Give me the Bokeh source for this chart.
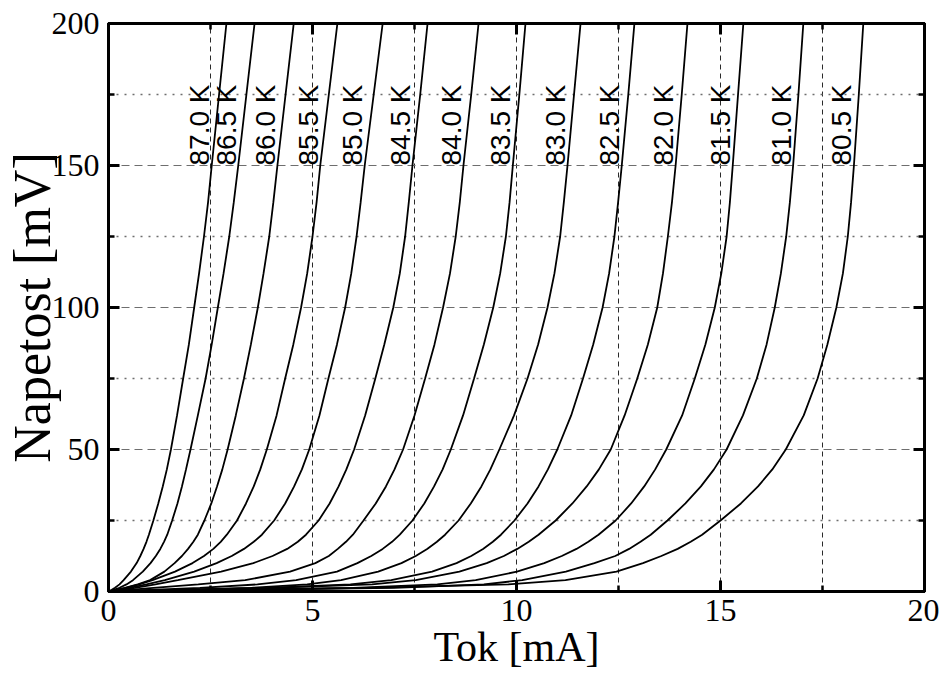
import numpy as np
from bokeh.plotting import figure
from bokeh.models import (LinearAxis, Range1d, SingleIntervalTicker, FixedTicker,
                          Grid, ColumnDataSource)
from bokeh.core.properties import value
from bokeh.embed import file_html
from bokeh.resources import INLINE

# Temperatures of the measured I-V curves
temps = ["87.0 K", "86.5 K", "86.0 K", "85.5 K", "85.0 K", "84.5 K", "84.0 K",
         "83.5 K", "83.0 K", "82.5 K", "82.0 K", "81.5 K", "81.0 K", "80.5 K"]

# Voltage levels [mV] at which the current of every curve is listed
volt = [0, 0.6, 1.3, 2.5, 4, 7, 10, 12.5, 15, 17.5, 20, 25, 31, 37, 43, 50,
        62, 75, 87, 100, 112, 125, 137, 150, 175, 200]

# Current [mA] of each curve at those voltages
i_870 = [0, 0.08, 0.16, 0.27, 0.37, 0.55, 0.69, 0.78, 0.86, 0.93, 0.99, 1.10, 1.22,
         1.33, 1.43, 1.53, 1.68, 1.83, 1.97, 2.10, 2.22, 2.34, 2.44, 2.53, 2.71, 2.89]
i_865 = [0, 0.13, 0.27, 0.44, 0.60, 0.84, 1.03, 1.16, 1.27, 1.36, 1.44, 1.56, 1.69,
         1.80, 1.90, 2.01, 2.19, 2.38, 2.53, 2.68, 2.82, 2.96, 3.07, 3.18, 3.38, 3.58]
i_860 = [0, 0.19, 0.40, 0.72, 1.02, 1.37, 1.62, 1.80, 1.95, 2.08, 2.19, 2.35, 2.52,
         2.66, 2.79, 2.92, 3.12, 3.32, 3.49, 3.66, 3.80, 3.94, 4.04, 4.14, 4.34, 4.54]
i_855 = [0, 0.22, 0.43, 0.75, 1.08, 1.63, 2.06, 2.34, 2.57, 2.75, 2.90, 3.15, 3.37,
         3.56, 3.72, 3.88, 4.12, 4.33, 4.53, 4.72, 4.87, 5.00, 5.10, 5.19, 5.40, 5.61]
i_850 = [0, 0.25, 0.52, 0.93, 1.38, 2.10, 2.65, 3.02, 3.32, 3.56, 3.76, 4.06, 4.33,
         4.55, 4.74, 4.92, 5.17, 5.39, 5.60, 5.80, 5.95, 6.08, 6.18, 6.28, 6.50, 6.72]
i_845 = [0, 0.30, 0.65, 1.15, 1.70, 2.76, 3.55, 4.02, 4.38, 4.64, 4.84, 5.15, 5.42,
         5.64, 5.83, 6.02, 6.29, 6.54, 6.76, 6.98, 7.14, 7.27, 7.36, 7.45, 7.64, 7.82]
i_840 = [0, 0.50, 1.10, 2.20, 3.35, 4.45, 5.07, 5.40, 5.62, 5.82, 5.99, 6.25, 6.55,
         6.80, 7.01, 7.22, 7.50, 7.76, 7.99, 8.20, 8.37, 8.51, 8.61, 8.70, 8.89, 9.07]
i_835 = [0, 1.00, 2.24, 3.65, 4.60, 5.60, 6.10, 6.44, 6.72, 6.95, 7.14, 7.45, 7.74,
         7.98, 8.19, 8.39, 8.69, 8.96, 9.20, 9.43, 9.60, 9.74, 9.83, 9.91, 10.07, 10.22]
i_830 = [0, 1.60, 3.50, 4.87, 5.70, 6.61, 7.18, 7.53, 7.81, 8.05, 8.25, 8.58, 8.88,
         9.14, 9.36, 9.58, 9.94, 10.27, 10.53, 10.76, 10.93, 11.07, 11.16, 11.25, 11.41, 11.57]
i_825 = [0, 1.80, 3.90, 5.93, 6.93, 7.93, 8.53, 8.89, 9.18, 9.42, 9.62, 9.95, 10.27,
         10.54, 10.77, 11.00, 11.34, 11.63, 11.88, 12.11, 12.27, 12.40, 12.49, 12.58, 12.74, 12.89]
i_820 = [0, 2.00, 4.00, 6.46, 7.53, 8.60, 9.27, 9.69, 10.02, 10.30, 10.54, 10.96, 11.37,
         11.72, 12.02, 12.31, 12.65, 12.96, 13.22, 13.45, 13.59, 13.71, 13.81, 13.90, 14.05, 14.19]
i_815 = [0, 3.00, 6.00, 8.06, 9.00, 10.01, 10.68, 11.11, 11.47, 11.76, 12.01, 12.43, 12.81,
         13.13, 13.40, 13.67, 14.06, 14.37, 14.63, 14.86, 15.02, 15.15, 15.23, 15.30, 15.43, 15.56]
i_810 = [0, 3.00, 7.00, 9.20, 10.14, 11.21, 11.91, 12.42, 12.76, 13.04, 13.29, 13.70, 14.14,
         14.52, 14.84, 15.15, 15.55, 15.89, 16.13, 16.33, 16.48, 16.61, 16.70, 16.78, 16.91, 17.03]
i_805 = [0, 3.60, 6.30, 9.80, 11.20, 12.45, 13.10, 13.55, 13.95, 14.27, 14.55, 15.00, 15.50,
         15.92, 16.27, 16.60, 17.04, 17.38, 17.62, 17.84, 18.00, 18.12, 18.20, 18.27, 18.39, 18.50]

currents = [i_870, i_865, i_860, i_855, i_850, i_845, i_840,
            i_835, i_830, i_825, i_820, i_815, i_810, i_805]

serif = "Liberation Serif"
sans = "Liberation Sans"

p = figure(width=939, height=677,
           x_range=Range1d(0, 20), y_range=Range1d(0, 200),
           output_backend="svg", toolbar_location=None,
           min_border_left=108, min_border_right=15,
           min_border_top=23, min_border_bottom=86,
           x_axis_label="Tok [mA]", y_axis_label="Napetost [mV]")
p.background_fill_color = "white"
p.border_fill_color = "white"
p.outline_line_color = "black"
p.outline_line_width = 3

# grid: dashed lines on every x tick, dashed/dotted alternating in y
p.xgrid.visible = False
p.ygrid.visible = False
p.add_layout(Grid(dimension=0, ticker=FixedTicker(ticks=[2.5, 5, 7.5, 10, 12.5, 15, 17.5]),
                  grid_line_color="#2a2a2a", grid_line_width=1, grid_line_dash="5 4"))
p.add_layout(Grid(dimension=1, ticker=FixedTicker(ticks=[50, 100, 150]),
                  grid_line_color="#6e6e6e", grid_line_width=1.2, grid_line_dash="8 5"))
p.add_layout(Grid(dimension=1, ticker=FixedTicker(ticks=[25, 75, 125, 175]),
                  grid_line_color="#6e6e6e", grid_line_width=1.4, grid_line_dash="2 6"))

xt = SingleIntervalTicker(interval=5, num_minor_ticks=2)
yt = SingleIntervalTicker(interval=50, num_minor_ticks=2)

top_axis = LinearAxis(ticker=xt)
right_axis = LinearAxis(ticker=yt)
p.add_layout(top_axis, "above")
p.add_layout(right_axis, "right")

bottom_axis = p.below[0]
left_axis = p.left[0]
bottom_axis.ticker = xt
left_axis.ticker = yt

for ax in (bottom_axis, left_axis, top_axis, right_axis):
    ax.axis_line_width = 3
    ax.axis_line_color = "black"
    ax.major_tick_in = 11
    ax.major_tick_out = 0
    ax.minor_tick_in = 6
    ax.minor_tick_out = 0
    ax.major_tick_line_width = 3
    ax.minor_tick_line_width = 2.5
    ax.major_label_text_font = serif
    ax.major_label_text_font_size = "32px"
    ax.major_label_text_color = "black"
    ax.major_label_standoff = 9
    ax.axis_label_text_font = serif
    ax.axis_label_text_font_style = "normal"
    ax.axis_label_text_color = "black"

bottom_axis.axis_label_text_font_size = "42px"
bottom_axis.axis_label_standoff = 0
bottom_axis.major_label_standoff = 8
left_axis.axis_label_text_font_size = "52px"
left_axis.axis_label_standoff = -12

# top and right axes carry ticks only
for ax in (top_axis, right_axis):
    ax.major_label_text_color = None
    ax.major_label_text_font_size = "1px"
    ax.major_label_standoff = 0
    ax.axis_label = None

for cur in currents:
    p.line(cur, volt, line_color="black", line_width=1.8)

# temperature labels, placed just left of each curve at 150 mV
lab_x = [float(np.interp(150, volt, cur)) for cur in currents]
src = ColumnDataSource(dict(x=lab_x, y=[150] * len(temps), t=temps))
p.text(x="x", y="y", text="t", source=src, angle=np.pi / 2,
       x_offset=-12, y_offset=0,
       text_font=value(sans), text_font_size="28px", text_color="black",
       text_align="left", text_baseline="middle")

open("out.html", "w").write(file_html(p, INLINE))
